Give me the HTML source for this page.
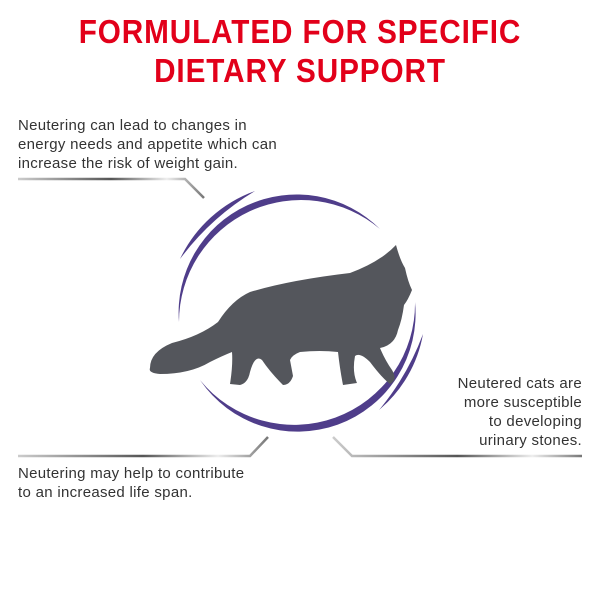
<!DOCTYPE html>
<html><head><style>
body{margin:0;width:600px;height:600px;background:#fff;position:relative;overflow:hidden;font-family:"Liberation Sans",sans-serif}
.t{position:absolute;left:0;width:600px;text-align:center;color:#e2001a;font-weight:bold;font-size:33px;letter-spacing:1px;transform:scaleX(0.9)}
.p{position:absolute;color:#333;font-size:15px;line-height:19px;letter-spacing:0.3px}
</style></head><body>
<div class="t" style="top:13px">FORMULATED FOR SPECIFIC</div>
<div class="t" style="top:52px">DIETARY SUPPORT</div>
<div class="p" style="left:18px;top:116px">Neutering can lead to changes in<br>energy needs and appetite which can<br>increase the risk of weight gain.</div>
<div class="p" style="right:18px;top:374px;text-align:right">Neutered cats are<br>more susceptible<br>to developing<br>urinary stones.</div>
<div class="p" style="left:18px;top:464px">Neutering may help to contribute<br>to an increased life span.</div>
<svg width="600" height="600" style="position:absolute;left:0;top:0">
<defs><linearGradient id="g" x1="0" x2="1"><stop offset="0" stop-color="#ccc"/><stop offset="0.5" stop-color="#555"/><stop offset="0.8" stop-color="#eee"/><stop offset="1" stop-color="#777"/></linearGradient></defs>
<g fill="none" stroke-width="2.5">
<polyline points="18,179 185,179 204,198" stroke="url(#g)"/>
<polyline points="18,456 250,456 268,437" stroke="url(#g)"/>
<polyline points="333,437 352,456 582,456" stroke="url(#g)"/>
</g>
<g fill="#4f3d8a">
<path d="M179,322 A118 118 0 0 1 380,229 A122 122 0 0 0 179,322 Z"/>
<path d="M200,380 A118 118 0 0 0 415,302 A121 121 0 0 1 200,380 Z"/>
<path d="M180,259 A132 132 0 0 1 255,191 A260 260 0 0 0 180,259 Z"/>
<path d="M379,410 A128 128 0 0 0 423,334 A260 260 0 0 1 379,410 Z"/>
</g>
<path fill="#54565c" d="M150,368 Q150,352 172,343 Q200,336 218,322 Q232,300 250,292 Q290,280 350,273 Q380,262 396,245 Q400,260 405,268 Q408,282 412,290 Q408,300 404,305 Q402,320 398,330 Q395,345 380,348 Q385,360 392,370 Q398,380 390,384 Q382,378 370,362 Q360,352 355,356 Q352,372 357,383 L343,385 Q340,370 338,352 Q320,350 300,352 Q292,355 290,360 L293,376 Q290,385 283,385 Q270,372 262,360 Q255,354 250,372 Q248,383 240,385 L230,384 Q233,365 232,352 Q222,356 210,362 Q190,374 160,374 Q148,373 150,368 Z"/>
</svg>
</body></html>
